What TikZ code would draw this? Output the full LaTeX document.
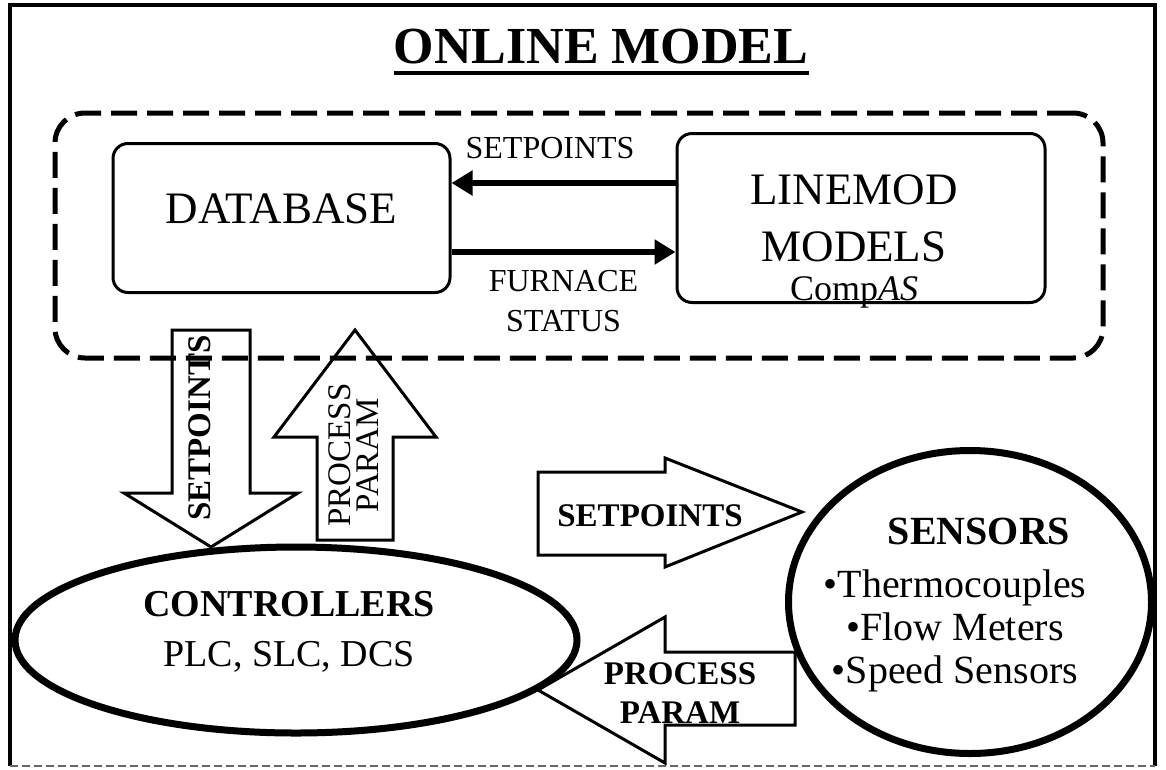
\documentclass[tikz,border=0pt]{standalone}
\usepackage{fontspec}
\setmainfont{Liberation Serif}
\usetikzlibrary{arrows.meta,positioning,shapes}

\begin{document}
\begin{tikzpicture}[x=1pt, y=-1pt,
    modelbox/.style={
        rectangle,
        rounded corners=15pt,
        draw,
        line width=3pt,
        inner sep=0pt
    },
    flowarrow/.style={
        line width=6pt,
        -{Triangle[length=21pt, width=24pt]}
    },
    flowlabel/.style={
        font=\fontsize{32}{40}\selectfont,
        align=center,
        inner sep=0pt
    },
    blockarrow/.style={
        draw,
        line width=3pt,
        line join=miter
    },
    blocklabel/.style={
        font=\fontsize{33}{39}\selectfont\bfseries,
        align=center,
        inner sep=0pt
    },
    deviceshape/.style={
        ellipse,
        draw,
        line width=7pt,
        inner sep=0pt
    }
]
    \useasboundingbox (0,0) rectangle (1166,769);

    % outer frame
    \draw[line width=4pt] (10,766) -- (10,5) -- (1155,5) -- (1155,766);
    \draw[line width=2pt, black!60, dash pattern=on 8pt off 4pt] (10,766) -- (1155,766);

    \node (online_model) [anchor=base, inner sep=0pt] at (601,63)
    {
        \fontsize{52}{60}\selectfont\bfseries ONLINE MODEL
    };
    \draw[line width=4pt] ([yshift=-10pt]online_model.base west) -- ([yshift=-10pt]online_model.base east);

    % the model part
    \node (model_frame) [draw, line width=5pt, dash pattern=on 26pt off 10pt, rounded corners=30pt,
        minimum width=1048pt, minimum height=245pt] at (579,235.5) {};

    \node (database) [modelbox, minimum width=337pt, minimum height=149pt,
        font=\fontsize{45}{54}\selectfont, text depth=18pt] at (281.5,218)
    {
        DATABASE
    };
    \node (linemod_models) [modelbox, minimum width=368pt, minimum height=169pt] at (861,218) {};
    \node (linemod_text) [align=center, inner sep=0pt, font=\fontsize{45}{57}\selectfont] at (854,241)
    {
        LINEMOD\\MODELS\\[-18pt]{\fontsize{36}{39}\selectfont Comp\textit{AS}}
    };

    \draw[flowarrow] ([yshift=35pt]linemod_models.west) to
        node (setpoints_top) [flowlabel, above=21pt, pos=0.56] {SETPOINTS}
        ([yshift=35pt]database.east);
    \draw[flowarrow] ([yshift=-34pt]database.east) to
        node (furnace_status) [flowlabel, below=15pt, pos=0.5] {FURNACE\\STATUS}
        ([yshift=-34pt]linemod_models.west);

    % block arrows
    \draw[blockarrow] (172,330) -- (250,330) -- (250,493) -- (298,493) -- (211,547) -- (124,493) -- (172,493) -- cycle;
    \node (setpoints_down) [blocklabel, rotate=90] at (200,428) {SETPOINTS};

    \draw[blockarrow] (355,330) -- (436,437) -- (393,437) -- (393,540) -- (317,540) -- (317,437) -- (274,437) -- cycle;
    \node (process_up) [blocklabel, font=\fontsize{33}{28}\selectfont, rotate=90] at (354,455) {PROCESS\\PARAM};

    \draw[blockarrow] (538,472) -- (665,472) -- (665,458) -- (802,512) -- (665,567) -- (665,555) -- (538,555) -- cycle;
    \node (setpoints_right) [blocklabel] at (650,516) {SETPOINTS};

    \draw[blockarrow] (795,652) -- (795,725) -- (665,725) -- (665,763) -- (538,690) -- (665,617) -- (665,652) -- cycle;
    \node (process_left) [blocklabel] at (680,693) {PROCESS\\PARAM};

    % field devices
    \node (controllers) [deviceshape, minimum width=562pt, minimum height=186pt] at (296,640) {};
    \node (controllers_text) [align=center, inner sep=0pt, font=\fontsize{38}{50}\selectfont] at (289,632)
    {
        {\bfseries CONTROLLERS}\\PLC, SLC, DCS
    };

    \node (sensors) [deviceshape, minimum width=363pt, minimum height=303pt] at (970,602) {};
    \node (sensors_text) [align=center, inner sep=0pt, font=\fontsize{40}{43}\selectfont] at (955,605)
    {
        \hspace*{48pt}{\bfseries SENSORS}\\[10pt]•Thermocouples\\•Flow Meters\\•Speed Sensors
    };
\end{tikzpicture}
\end{document}
